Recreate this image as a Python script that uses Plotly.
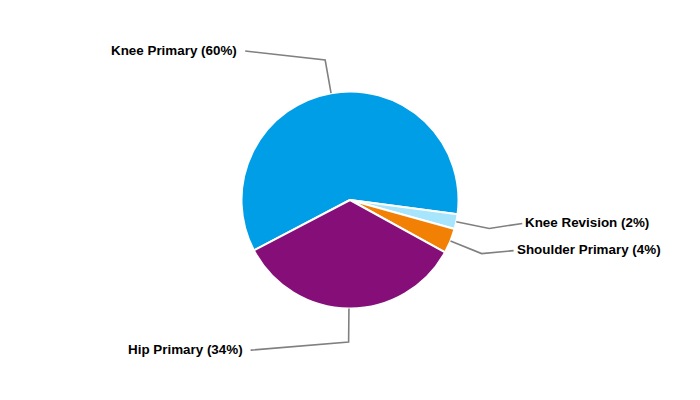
import math
import plotly.graph_objects as go

labels = ["Knee Primary", "Knee Revision", "Shoulder Primary", "Hip Primary"]
values = [59.8, 2.2, 3.7, 34.3]
colors = ["#009EE6", "#A6E5FB", "#F28005", "#850E78"]

W, H = 700, 400
CX, CY, R = 350, 200, 108.5
ROTATION = 242.3  # degrees clockwise from 12 o'clock where first slice starts

# label layout: offset (px) from elbow point to leader end
label_offsets = [(-80, -9), (33, -5), (32, -3), (-98, 8)]
elbow_factor = 1.31

fig = go.Figure()
fig.add_trace(go.Pie(
    labels=labels, values=values, sort=False, direction="clockwise",
    rotation=ROTATION, marker=dict(colors=colors, line=dict(color="white", width=2)),
    textinfo="none", hoverinfo="label+percent", showlegend=False,
    domain=dict(x=[(CX - R) / W, (CX + R) / W], y=[0.5 - R / H, 0.5 + R / H]),
))

def px(x, y):
    return x / W, 1 - y / H

total = sum(values)
cum = 0.0
shapes, annotations = [], []
for lab, v, (ox, oy) in zip(labels, values, label_offsets):
    mid = ROTATION + (cum + v / 2) / total * 360
    cum += v
    a = math.radians(mid)
    sx, sy = CX + R * math.sin(a), CY - R * math.cos(a)
    ex, ey = CX + R * elbow_factor * math.sin(a), CY - R * elbow_factor * math.cos(a)
    lx, ly = ex + ox, ey + oy
    pts = [px(sx, sy), px(ex, ey), px(lx, ly)]
    path = "M {} {} L {} {} L {} {}".format(pts[0][0], pts[0][1], pts[1][0], pts[1][1], pts[2][0], pts[2][1])
    shapes.append(dict(type="path", path=path, xref="paper", yref="paper",
                       line=dict(color="#808080", width=1.6)))
    pct = round(v / total * 100)
    right = ox > 0
    tx, ty = px(lx + (1 if right else -6), ly - 1)
    annotations.append(dict(x=tx, y=ty, xref="paper", yref="paper", showarrow=False,
                            text="<b>{} ({}%)</b>".format(lab, pct),
                            xanchor="left" if right else "right", yanchor="middle",
                            font=dict(family="Liberation Sans, Arial, sans-serif", size=13.4, color="#000000")))

fig.update_layout(width=W, height=H, margin=dict(l=0, r=0, t=0, b=0),
                  paper_bgcolor="white", plot_bgcolor="white",
                  shapes=shapes, annotations=annotations)
fig.write_html("out.html", config={"displayModeBar": False},
               post_script="document.body.style.margin='0';")
